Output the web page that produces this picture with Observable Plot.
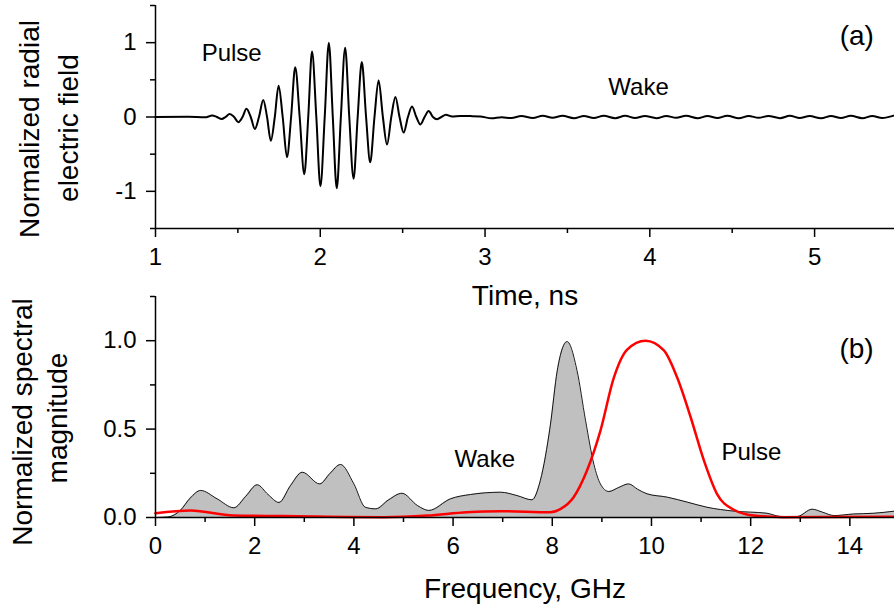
<!DOCTYPE html>
<html><head><meta charset="utf-8">
<script src="https://cdn.jsdelivr.net/npm/d3@7"></script>
<script src="https://cdn.jsdelivr.net/npm/@observablehq/plot@0.6"></script>
<style>
body{margin:0;background:#fff;}
#wrap{position:relative;width:894px;height:608px;overflow:hidden;background:#fff;}
#wrap svg{position:absolute;left:0;}
</style></head><body><div id="wrap"></div>
<script>
// ---- Panel (a): normalized radial electric field vs time ----
const fieldTime = [
  1.00, 1.20, 1.30, 1.345, 1.372, 1.402, 1.425, 1.45, 1.477, 1.503, 1.528, 1.552, 1.578, 1.603, 1.628,
  1.654, 1.677, 1.700, 1.724, 1.747, 1.772, 1.798, 1.823, 1.848, 1.875, 1.903, 1.927, 1.950, 1.976,
  2.001, 2.027, 2.052, 2.076, 2.100, 2.125, 2.151, 2.176, 2.202, 2.227, 2.252, 2.278, 2.303, 2.329,
  2.354, 2.380, 2.405, 2.431, 2.456, 2.481, 2.506, 2.532, 2.557, 2.583, 2.608, 2.633, 2.658, 2.684,
  2.709, 2.735, 2.762, 2.80, 2.85, 2.91, 2.97, 3.04, 3.10, 3.16, 3.22, 3.29, 3.35, 3.41, 3.47, 3.54,
  3.60, 3.66, 3.72, 3.79, 3.85, 3.91, 3.97, 4.04, 4.10, 4.16, 4.22, 4.29, 4.35, 4.41, 4.47, 4.54,
  4.60, 4.66, 4.72, 4.79, 4.85, 4.91, 4.97, 5.04, 5.10, 5.16, 5.22, 5.29, 5.35, 5.41, 5.48
];
const fieldValue = [
  0.000, 0.003, -0.005, 0.020, 0.000, -0.027, 0.000, 0.040, 0.000, -0.070, 0.000, 0.110, 0.000, -0.160, 0.000,
  0.230, 0.000, -0.320, 0.000, 0.420, 0.000, -0.540, 0.000, 0.670, 0.000, -0.770, 0.000, 0.880, 0.000,
  -0.930, 0.000, 1.000, 0.000, -0.960, 0.000, 0.930, 0.000, -0.830, 0.000, 0.740, 0.000, -0.610, 0.000,
  0.490, 0.000, -0.370, 0.000, 0.270, 0.000, -0.210, 0.000, 0.140, 0.000, -0.100, 0.000, 0.080, 0.000,
  -0.030, 0.000, 0.030, 0.006, 0.014, 0.012, 0.008, -0.018, -0.004, -0.014, 0.014, -0.014, 0.016, -0.010, 0.016, -0.016,
  0.014, -0.014, 0.016, -0.016, 0.016, -0.014, 0.014, -0.016, 0.014, -0.010, 0.016, -0.016, 0.014, -0.014, 0.016, -0.018,
  0.014, -0.010, 0.014, -0.016, 0.016, -0.014, 0.012, -0.018, 0.014, -0.014, 0.016, -0.016, 0.014, -0.014, 0.018
];
const timeTicks = [1, 2, 3, 4, 5];
const timeMinorTicks = [1.5, 2.5, 3.5, 4.5];
const fieldTicks = [-1, 0, 1];
const fieldMinorTicks = [-1.5, -0.5, 0.5, 1.5];
const annALabels = ["Pulse", "Wake"];
const annAX = [1.28, 3.748];
const annAY = [0.76, 0.30];
const panelALetter = ["(a)"];
const panelALetterX = [5.152];
const panelALetterY = [0.975];

// ---- Panel (b): normalized spectral magnitude vs frequency ----
const wakeFreq = [
  0.00, 0.25, 0.50, 0.70, 0.91, 1.24, 1.58, 1.82, 2.05, 2.27, 2.49, 2.72, 2.96, 3.31, 3.52, 3.73,
  4.00, 4.23, 4.44, 4.70, 4.97, 5.28, 5.51, 5.95, 6.35, 6.96, 7.29, 7.59, 7.76, 7.96, 8.10, 8.30,
  8.50, 8.67, 8.84, 8.97, 9.14, 9.34, 9.54, 9.72, 9.91, 10.32, 10.72, 11.12, 11.66, 12.33, 12.60,
  12.94, 13.24, 13.45, 13.68, 14.08, 14.48, 14.90
];
const wakeMag = [
  0.000, 0.003, 0.040, 0.110, 0.153, 0.106, 0.055, 0.120, 0.185, 0.130, 0.085, 0.180, 0.256, 0.190, 0.250, 0.300,
  0.190, 0.058, 0.049, 0.100, 0.137, 0.068, 0.040, 0.106, 0.130, 0.143, 0.124, 0.100, 0.210, 0.520, 0.830, 0.995,
  0.830, 0.550, 0.300, 0.190, 0.147, 0.170, 0.190, 0.160, 0.134, 0.115, 0.087, 0.058, 0.036, 0.024, 0.006,
  0.006, 0.047, 0.030, 0.011, 0.020, 0.024, 0.036
];
const pulseFreq = [
  0.00, 0.71, 1.57, 2.58, 4.60, 5.48, 6.28, 6.96, 7.96, 8.17, 8.43, 8.70, 8.97, 9.24, 9.51, 9.88,
  10.25, 10.52, 10.79, 11.06, 11.32, 11.66, 12.06, 12.66, 14.90
];
const pulseMag = [
  0.024, 0.040, 0.011, 0.008, 0.002, 0.011, 0.030, 0.036, 0.030, 0.049, 0.115, 0.266, 0.490, 0.790, 0.950, 1.000,
  0.945, 0.790, 0.567, 0.320, 0.134, 0.044, 0.011, 0.002, 0.004
];
const freqTicks = [0, 2, 4, 6, 8, 10, 12, 14];
const freqMinorTicks = [1, 3, 5, 7, 9, 11, 13];
const specTicks = [0, 0.5, 1.0];
const specMinorTicks = [0.25, 0.75, 1.25];
const annBLabels = ["Wake", "Pulse"];
const annBX = [6.03, 11.41];
const annBY = [0.288, 0.328];
const panelBLetter = ["(b)"];
const panelBLetterX = [13.79];
const panelBLetterY = [0.90];

const FONT = '"Liberation Sans", Arial, Helvetica, sans-serif';
const field = fieldTime.map((t, i) => ({t, v: fieldValue[i]}));
const annA = annALabels.map((s, i) => ({s, x: annAX[i], y: annAY[i]}));
const letA = panelALetter.map((s, i) => ({s, x: panelALetterX[i], y: panelALetterY[i]}));
const wake = wakeFreq.map((f, i) => ({f, v: wakeMag[i]}));
const pulse = pulseFreq.map((f, i) => ({f, v: pulseMag[i]}));
const annB = annBLabels.map((s, i) => ({s, x: annBX[i], y: annBY[i]}));
const letB = panelBLetter.map((s, i) => ({s, x: panelBLetterX[i], y: panelBLetterY[i]}));

const svgStyle = {background: "transparent", overflow: "visible", fontFamily: FONT, color: "black"};

const panelA = Plot.plot({
  width: 894, height: 312,
  marginLeft: 155, marginRight: 0, marginTop: 5, marginBottom: 84,
  style: svgStyle,
  x: {domain: [1, 5.485], label: null},
  y: {domain: [-1.5, 1.5], label: null},
  marks: [
    Plot.axisX({ticks: timeTicks, tickSize: 9, tickPadding: 10, fontSize: 24, strokeWidth: 1.5, tickFormat: d => String(d), label: null}),
    Plot.axisX({ticks: timeMinorTicks, tickSize: 5, strokeWidth: 1.5, tickFormat: () => "", label: null}),
    Plot.axisY({ticks: fieldTicks, tickSize: 9, tickPadding: 10, fontSize: 24, strokeWidth: 1.5, tickFormat: d => String(d), label: null}),
    Plot.axisY({ticks: fieldMinorTicks, tickSize: 5, strokeWidth: 1.5, tickFormat: () => "", label: null}),
    Plot.line(field, {x: "t", y: "v", stroke: "black", strokeWidth: 2, curve: "monotone-x"}),
    Plot.ruleX([1], {strokeWidth: 1.5}),
    Plot.ruleY([-1.5], {strokeWidth: 1.5}),
    Plot.text(annA, {x: "x", y: "y", text: "s", textAnchor: "start", lineAnchor: "bottom", fontSize: 24}),
    Plot.text(letA, {x: "x", y: "y", text: "s", textAnchor: "start", lineAnchor: "bottom", fontSize: 28}),
    Plot.text(["Time, ns"], {text: d => d, frameAnchor: "bottom", textAnchor: "middle", lineAnchor: "top", dy: 57, fontSize: 28}),
    Plot.text(["Normalized radial"], {text: d => d, frameAnchor: "left", textAnchor: "middle", lineAnchor: "middle", rotate: -90, dx: -125, dy: 12, fontSize: 28}),
    Plot.text(["electric field"], {text: d => d, frameAnchor: "left", textAnchor: "middle", lineAnchor: "middle", rotate: -90, dx: -86, dy: 11, fontSize: 28})
  ]
});
panelA.style.top = "0px";

const panelB = Plot.plot({
  width: 894, height: 318,
  marginLeft: 155, marginRight: 0, marginTop: 6, marginBottom: 91,
  style: svgStyle,
  x: {domain: [0, 14.9], label: null},
  y: {domain: [0, 1.25], label: null},
  marks: [
    Plot.areaY(wake, {x: "f", y: "v", fill: "#c0c0c0", curve: "monotone-x"}),
    Plot.lineY(wake, {x: "f", y: "v", stroke: "black", strokeWidth: 0.9, curve: "monotone-x"}),
    Plot.lineY(pulse, {x: "f", y: "v", stroke: "#ff0000", strokeWidth: 2.5, curve: "monotone-x"}),
    Plot.axisX({ticks: freqTicks, tickSize: 9, tickPadding: 10, fontSize: 24, strokeWidth: 1.5, tickFormat: d => String(d), label: null}),
    Plot.axisX({ticks: freqMinorTicks, tickSize: 5, strokeWidth: 1.5, tickFormat: () => "", label: null}),
    Plot.axisY({ticks: specTicks, tickSize: 9, tickPadding: 10, fontSize: 24, strokeWidth: 1.5, tickFormat: d3.format(".1f"), label: null}),
    Plot.axisY({ticks: specMinorTicks, tickSize: 5, strokeWidth: 1.5, tickFormat: () => "", label: null}),
    Plot.ruleX([0], {strokeWidth: 1.5}),
    Plot.ruleY([0], {strokeWidth: 1.5}),
    Plot.text(annB, {x: "x", y: "y", text: "s", textAnchor: "start", lineAnchor: "bottom", fontSize: 24}),
    Plot.text(letB, {x: "x", y: "y", text: "s", textAnchor: "start", lineAnchor: "bottom", fontSize: 28}),
    Plot.text(["Frequency, GHz"], {text: d => d, frameAnchor: "bottom", textAnchor: "middle", lineAnchor: "top", dy: 61, fontSize: 28}),
    Plot.text(["Normalized spectral"], {text: d => d, frameAnchor: "left", textAnchor: "middle", lineAnchor: "middle", rotate: -90, dx: -132, dy: 15, fontSize: 28}),
    Plot.text(["magnitude"], {text: d => d, frameAnchor: "left", textAnchor: "middle", lineAnchor: "middle", rotate: -90, dx: -97, dy: 11, fontSize: 28})
  ]
});
panelB.style.top = "290px";

const wrap = document.getElementById("wrap");
wrap.appendChild(panelA);
wrap.appendChild(panelB);
</script>
</body></html>
